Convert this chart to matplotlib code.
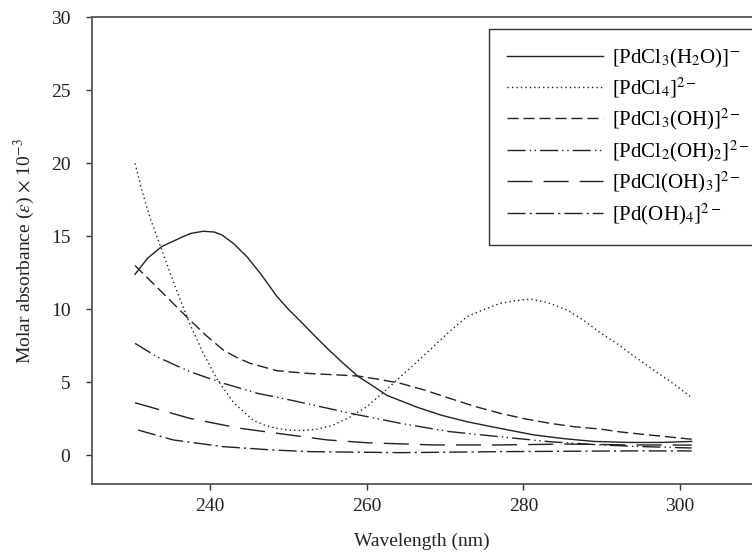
import matplotlib
matplotlib.use('Agg')
import matplotlib.pyplot as plt

plt.rcParams['font.family'] = ['Liberation Serif', 'DejaVu Serif']
plt.rcParams['mathtext.fontset'] = 'stix'

# series (wavelength nm, absorbance x 1e-3)
wl_h2o = [230.4, 232.0, 233.8, 236.6, 237.5, 239.1, 240.5, 241.5, 243.0, 244.7,
          246.5, 248.5, 250.0, 251.5, 253.5, 255.0, 257.0, 258.9, 260.5, 262.6,
          264.5, 266.4, 269.5, 272.8, 276.5, 281.3, 285.0, 289.0, 293.6, 297.5, 301.5]
ab_h2o = [12.4, 13.5, 14.3, 15.0, 15.2, 15.35, 15.3, 15.1, 14.5, 13.6,
          12.4, 10.9, 10.0, 9.2, 8.1, 7.3, 6.3, 5.4, 4.85, 4.1,
          3.7, 3.3, 2.75, 2.3, 1.9, 1.4, 1.15, 0.95, 0.88, 0.88, 0.95]

wl_cl4 = [230.4, 231.3, 232.3, 233.8, 235.7, 237.4, 239.1, 240.9, 243.0, 245.5,
          247.0, 248.5, 250.2, 251.9, 253.8, 255.7, 257.8, 260.0, 262.1, 264.3,
          266.4, 268.5, 270.6, 272.8, 275.0, 277.0, 279.0, 280.9, 283.2, 285.6,
          287.7, 289.8, 291.7, 293.6, 297.0, 299.2, 301.5]
ab_cl4 = [20.0, 18.1, 16.3, 14.1, 11.3, 9.0, 7.0, 5.2, 3.6, 2.4,
          2.05, 1.85, 1.72, 1.7, 1.8, 2.07, 2.6, 3.33, 4.3, 5.38,
          6.4, 7.44, 8.5, 9.5, 10.0, 10.4, 10.6, 10.7, 10.45, 9.95,
          9.25, 8.4, 7.75, 7.0, 5.7, 4.9, 3.95]

wl_cl3oh = [230.4, 233.6, 237.4, 239.5, 241.7, 243.4, 245.1, 248.5, 250.5, 252.8,
            255.8, 258.9, 261.6, 264.3, 267.5, 270.6, 273.8, 277.0, 280.2, 283.4,
            286.6, 289.8, 292.4, 295.0, 298.2, 301.5]
ab_cl3oh = [13.0, 11.3, 9.27, 8.2, 7.2, 6.7, 6.3, 5.8, 5.7, 5.6,
            5.52, 5.43, 5.2, 4.93, 4.45, 3.9, 3.35, 2.88, 2.5, 2.19,
            1.95, 1.8, 1.6, 1.45, 1.28, 1.1]

wl_cl2oh2 = [230.4, 233.2, 237.4, 241.7, 246.0, 250.2, 257.9, 264.3, 270.6, 277.0,
             283.4, 289.8, 295.0, 301.5]
ab_cl2oh2 = [7.67, 6.75, 5.73, 4.93, 4.25, 3.79, 2.88, 2.19, 1.62, 1.27,
             0.93, 0.71, 0.6, 0.5]

wl_cloh3 = [230.4, 237.4, 243.8, 250.2, 255.0, 260.0, 268.5, 277.0, 285.6, 293.6, 301.5]
ab_cloh3 = [3.6, 2.53, 1.85, 1.39, 1.05, 0.86, 0.71, 0.71, 0.77, 0.71, 0.7]

wl_oh4 = [230.8, 235.3, 241.7, 248.1, 252.8, 264.3, 277.0, 293.6, 301.5]
ab_oh4 = [1.73, 1.05, 0.59, 0.36, 0.25, 0.18, 0.25, 0.3, 0.3]

labels = [r'[PdCl$_3$(H$_2$O)]$^{-}$', r'[PdCl$_4$]$^{2-}$', r'[PdCl$_3$(OH)]$^{2-}$',
          r'[PdCl$_2$(OH)$_2$]$^{2-}$', r'[PdCl(OH)$_3$]$^{2-}$', r'[Pd(OH)$_4$]$^{2-}$']

fig = plt.figure(figsize=(7.52, 5.53), dpi=100)
ax = fig.add_axes([0.1223, 0.1239, 0.8777, 0.8445])

c = '#222222'
ax.plot(wl_h2o, ab_h2o, color=c, lw=1.0, linestyle='-', label=labels[0])
ax.plot(wl_cl4, ab_cl4, color=c, lw=1.0, linestyle=(0, (1, 2.2)), label=labels[1])
ax.plot(wl_cl3oh, ab_cl3oh, color=c, lw=1.0, linestyle=(0, (8, 3.5)), label=labels[2])
ax.plot(wl_cl2oh2, ab_cl2oh2, color=c, lw=1.0, linestyle=(0, (13, 3, 1, 2.5, 1, 3)), label=labels[3])
ax.plot(wl_cloh3, ab_cloh3, color=c, lw=1.0, linestyle=(0, (18, 8)), label=labels[4])
ax.plot(wl_oh4, ab_oh4, color=c, lw=1.0, linestyle=(0, (13, 3, 1.5, 3)), label=labels[5])

ax.set_xlim(224.9, 309.2)
ax.set_ylim(-2, 30)
ax.set_xticks([240, 260, 280, 300])
ax.set_yticks([0, 5, 10, 15, 20, 25, 30])

for s in ['left', 'bottom', 'top']:
    ax.spines[s].set_color('#555555')
    ax.spines[s].set_linewidth(1.3)
ax.spines['right'].set_visible(False)
ax.tick_params(direction='out', length=4.5, width=1.0, color='#333333',
               labelsize=14, labelcolor='#222222')
ax.tick_params(axis='x', pad=5)
ax.tick_params(axis='y', pad=11)

ax.set_xlabel('Wavelength (nm)', fontsize=14, color='#222222', labelpad=13)
ax.set_ylabel(r'Molar absorbance ($\varepsilon$) $\times$ 10$^{-3}$', fontsize=14,
              color='#222222', labelpad=10)

leg = ax.legend(loc='upper left', bbox_to_anchor=(489 / 752, 1 - 29 / 553),
                bbox_transform=fig.transFigure, fontsize=15, handlelength=4.6,
                handletextpad=0.45, labelspacing=0.3, borderpad=0.85, borderaxespad=0,
                frameon=True, fancybox=False, edgecolor='#333333', framealpha=1)
leg.get_frame().set_linewidth(1.0)

fig.savefig('out.png', dpi=100)
